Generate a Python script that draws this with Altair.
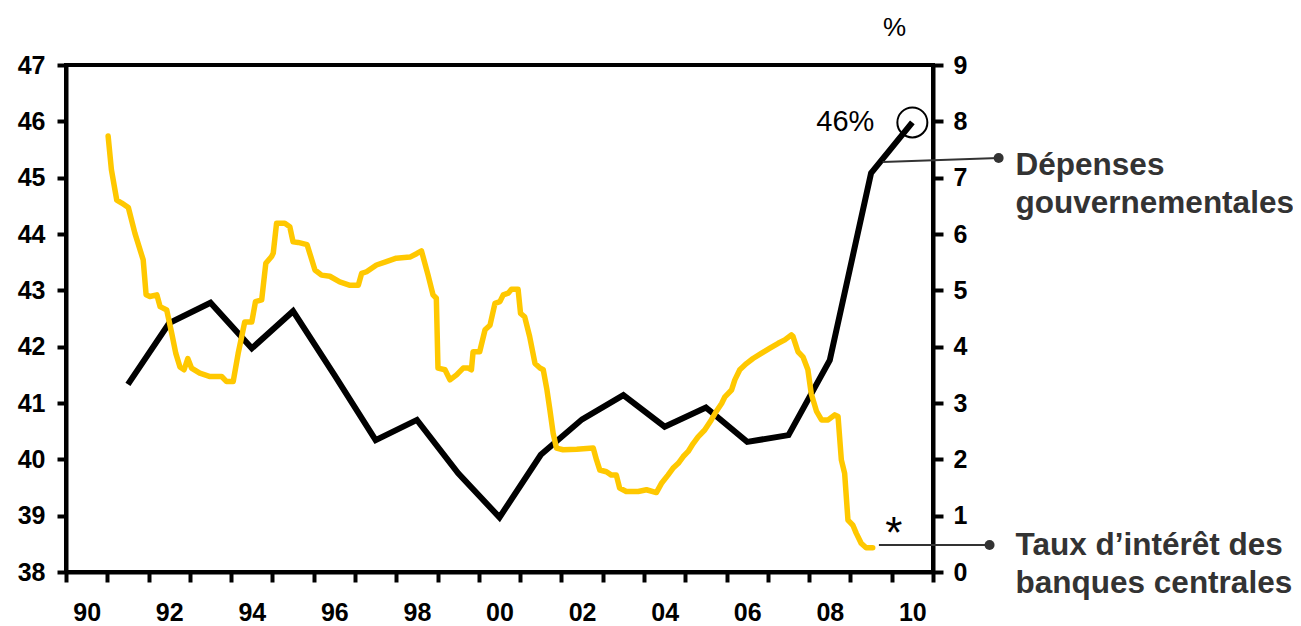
import altair as alt
import pandas as pd

# ---- data -------------------------------------------------------------
years = list(range(1991, 2011))
spending = [41.33, 42.42, 42.78, 41.97, 42.63, 41.50, 40.34, 40.70, 39.75, 38.97,
            40.08, 40.71, 41.14, 40.58, 40.92, 40.31, 40.43, 41.76, 45.08, 45.98]

rate_t = [1991.02, 1991.10, 1991.23, 1991.35, 1991.51, 1991.67, 1991.87, 1991.94,
          1992.03, 1992.20, 1992.28, 1992.44, 1992.56, 1992.66, 1992.76, 1992.86,
          1992.95, 1993.04, 1993.24, 1993.49, 1993.77, 1993.89, 1994.05, 1994.17,
          1994.33, 1994.50, 1994.59, 1994.74, 1994.84, 1994.98, 1995.02, 1995.10,
          1995.30, 1995.42, 1995.50, 1995.62, 1995.84, 1996.03, 1996.19, 1996.39,
          1996.63, 1996.88, 1997.08, 1997.16, 1997.28, 1997.52, 1997.76, 1998.00,
          1998.33, 1998.49, 1998.61, 1998.77, 1998.89, 1998.97, 1999.01, 1999.18,
          1999.30, 1999.46, 1999.62, 1999.74, 1999.82, 1999.86, 2000.02, 2000.15,
          2000.27, 2000.39, 2000.51, 2000.59, 2000.71, 2000.79, 2000.95, 2001.01,
          2001.11, 2001.23, 2001.36, 2001.48, 2001.56, 2001.65, 2001.72, 2001.80,
          2001.88, 2002.04, 2002.37, 2002.77, 2002.85, 2002.93, 2003.09, 2003.21,
          2003.33, 2003.41, 2003.57, 2003.86, 2004.06, 2004.30, 2004.42, 2004.58,
          2004.70, 2004.83, 2004.95, 2005.07, 2005.19, 2005.31, 2005.47, 2005.63,
          2005.75, 2005.88, 2005.96, 2006.12, 2006.20, 2006.32, 2006.48, 2006.64,
          2006.84, 2007.04, 2007.25, 2007.41, 2007.57, 2007.61, 2007.73, 2007.85,
          2007.97, 2008.05, 2008.18, 2008.30, 2008.46, 2008.62, 2008.70, 2008.78,
          2008.86, 2008.94, 2009.06, 2009.14, 2009.26, 2009.38, 2009.54]
rate_v = [7.74, 7.14, 6.60, 6.55, 6.47, 6.01, 5.54, 4.92,
          4.89, 4.92, 4.71, 4.65, 4.24, 3.88, 3.64, 3.59,
          3.79, 3.62, 3.53, 3.47, 3.47, 3.38, 3.38, 3.88,
          4.44, 4.44, 4.80, 4.83, 5.48, 5.60, 5.66, 6.19,
          6.19, 6.13, 5.86, 5.85, 5.81, 5.36, 5.27, 5.25,
          5.15, 5.09, 5.09, 5.30, 5.33, 5.45, 5.51, 5.57,
          5.59, 5.65, 5.70, 5.27, 4.92, 4.86, 3.62, 3.59,
          3.41, 3.50, 3.62, 3.62, 3.59, 3.91, 3.91, 4.30,
          4.38, 4.77, 4.80, 4.92, 4.95, 5.02, 5.02, 4.59,
          4.53, 4.18, 3.70, 3.62, 3.59, 3.23, 2.88, 2.46,
          2.20, 2.17, 2.18, 2.20, 1.99, 1.81, 1.78, 1.72,
          1.72, 1.49, 1.43, 1.43, 1.46, 1.41, 1.57, 1.72,
          1.84, 1.93, 2.05, 2.14, 2.28, 2.40, 2.52, 2.70,
          2.85, 2.99, 3.11, 3.23, 3.41, 3.59, 3.70, 3.79,
          3.88, 3.97, 4.06, 4.12, 4.21, 4.18, 3.91, 3.82,
          3.59, 3.17, 2.85, 2.70, 2.70, 2.79, 2.76, 1.99,
          1.75, 0.92, 0.83, 0.69, 0.51, 0.43, 0.43]

left_ticks = list(range(38, 48))
right_ticks = list(range(0, 10))
x_ticks = list(range(1990, 2012))

# annotation anchors (data units)
dep_conn = {"t": [2009.78], "t2": [2012.59], "v": [45.28], "v2": [45.35]}
dep_label = {"t": [2013.0], "v": [45.05], "label": ["Dépenses\ngouvernementales"]}
taux_conn = {"t": [2009.69], "t2": [2012.37], "v": [0.48], "v2": [0.48]}
taux_label = {"t": [2013.0], "v": [0.30], "label": ["Taux d\u2019intérêt des\nbanques centrales"]}
star_label = {"t": [2010.05], "v": [0.43], "label": ["*"]}
pct_label = {"t": [2010.07], "v": [9.66], "label": ["%"]}

# ---- frames --------------------------------------------------------------
spend_df = pd.DataFrame({"year": years, "v": spending})
rate_df = pd.DataFrame({"t": rate_t, "v": rate_v})

FONT = "Liberation Sans"
TXT = "#333333"
YEL = "#FFC800"

x_axis = alt.Axis(values=x_ticks, title=None, grid=False,
                  labelExpr="(datum.value % 2 == 0 && datum.value <= 2010) ? substring(toString(datum.value), 2, 4) : ''",
                  labelOffset=20.64, labelOverlap=False, labelFlush=False,
                  tickSize=10, labelPadding=18)
XS = alt.Scale(domain=[1990, 2011], nice=False, zero=False)
X = alt.X("t:Q", scale=XS, axis=x_axis)
X2 = alt.X2("t2")

yl_axis = alt.Axis(values=left_ticks, title=None, grid=False, orient="left",
                   tickSize=9, labelPadding=12)
YLS = alt.Scale(domain=[38, 47], nice=False, zero=False)
YL = alt.Y("v:Q", scale=YLS, axis=yl_axis)
yr_axis = alt.Axis(values=right_ticks, title=None, grid=False, orient="right",
                   tickSize=10, labelPadding=10)
YRS = alt.Scale(domain=[0, 9], nice=False, zero=False)
YR = alt.Y("v:Q", scale=YRS, axis=yr_axis)
Y2 = alt.Y2("v2")

# ---- left group: government spending --------------------------------------
base_sp = alt.Chart(spend_df).transform_calculate(t="datum.year + 0.5")
spend_line = base_sp.mark_line(color="black", strokeWidth=6).encode(x=X, y=YL)
last_pt = base_sp.transform_filter("datum.year == 2010")
circle = last_pt.mark_point(shape="circle", size=900, filled=False,
                            color="black", strokeWidth=2, opacity=1).encode(x=X, y=YL)
pct46 = last_pt.mark_text(text="46%", font=FONT, fontSize=29, color="black",
                          align="center", baseline="middle", dx=-67, dy=0).encode(x=X, y=YL)
dep_rule = alt.Chart(pd.DataFrame(dep_conn)).mark_rule(color=TXT, strokeWidth=2).encode(
    x=X, x2=X2, y=YL, y2=Y2)
dep_dot = alt.Chart(pd.DataFrame(dep_conn)).mark_point(
    shape="circle", filled=True, size=100, color=TXT, opacity=1).encode(
    x=alt.X("t2:Q", scale=XS, axis=x_axis),
    y=alt.Y("v2:Q", scale=YLS, axis=yl_axis))
dep_txt = alt.Chart(pd.DataFrame(dep_label)).mark_text(
    font=FONT, fontSize=31.5, fontWeight="bold", color=TXT, align="left",
    baseline="alphabetic", lineBreak="\n", lineHeight=38).encode(x=X, y=YL, text="label:N")

left = alt.layer(spend_line, circle, pct46, dep_rule, dep_dot, dep_txt)

# ---- right group: central bank rates -----------------------------------
rate_line = alt.Chart(rate_df).mark_line(color=YEL, strokeWidth=5.5,
                                         strokeJoin="round", strokeCap="round").encode(x=X, y=YR)
taux_rule = alt.Chart(pd.DataFrame(taux_conn)).mark_rule(color=TXT, strokeWidth=2).encode(
    x=X, x2=X2, y=YR, y2=Y2)
taux_dot = alt.Chart(pd.DataFrame(taux_conn)).mark_point(
    shape="circle", filled=True, size=100, color=TXT, opacity=1).encode(
    x=alt.X("t2:Q", scale=XS, axis=x_axis),
    y=alt.Y("v2:Q", scale=YRS, axis=yr_axis))
taux_txt = alt.Chart(pd.DataFrame(taux_label)).mark_text(
    font=FONT, fontSize=31.5, fontWeight="bold", color=TXT, align="left",
    baseline="alphabetic", lineBreak="\n", lineHeight=38).encode(x=X, y=YR, text="label:N")
star = alt.Chart(pd.DataFrame(star_label)).mark_text(
    font=FONT, fontSize=44, color="black", align="center", baseline="alphabetic").encode(
    x=X, y=YR, text="label:N")
pct = alt.Chart(pd.DataFrame(pct_label)).mark_text(
    font=FONT, fontSize=26, color="black", align="center", baseline="middle").encode(
    x=X, y=YR, text="label:N")

right = alt.layer(rate_line, taux_rule, taux_dot, taux_txt, star, pct)

chart = alt.layer(left, right).resolve_scale(y="independent").properties(
    width=867, height=507,
    autosize=alt.AutoSizeParams(type="none"),
    padding={"left": 58, "top": 57, "right": 360, "bottom": 52},
).configure(background="white").configure_view(
    stroke="black", strokeWidth=4
).configure_axis(
    domainColor="black", domainWidth=4, tickColor="black", tickWidth=4,
    labelFont=FONT, labelFontSize=25, labelFontWeight="bold", labelColor="black",
)

chart.save("out.html", embed_options={"renderer": "svg", "actions": False})
